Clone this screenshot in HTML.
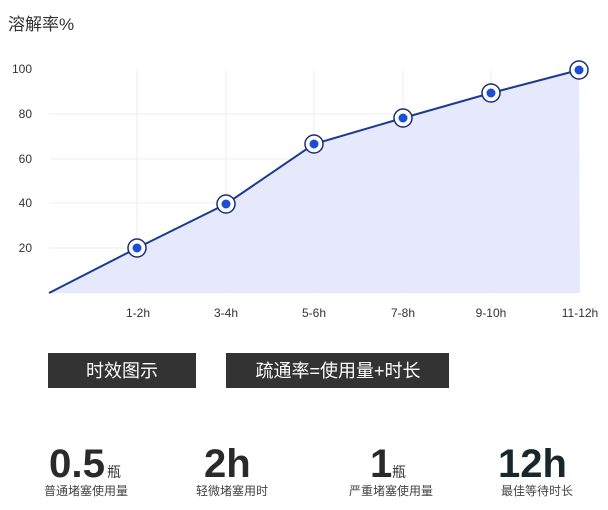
<!DOCTYPE html>
<html><head><meta charset="utf-8"><style>
html,body{margin:0;padding:0;background:#fff;width:608px;height:510px;overflow:hidden}
svg{display:block}
</style></head><body>
<svg width="608" height="510" viewBox="0 0 608 510" xmlns="http://www.w3.org/2000/svg" font-family="Liberation Sans, Noto Sans CJK SC, sans-serif">
<text x="8" y="30" font-size="17" fill="#333">溶解率%</text>
<g stroke="#eceef5" stroke-width="1">
<line x1="49" y1="114" x2="580" y2="114"/><line x1="49" y1="159" x2="580" y2="159"/>
<line x1="49" y1="203" x2="580" y2="203"/><line x1="49" y1="248" x2="580" y2="248"/>
<line x1="137" y1="70" x2="137" y2="293"/><line x1="226" y1="70" x2="226" y2="293"/>
<line x1="314" y1="70" x2="314" y2="293"/><line x1="403" y1="70" x2="403" y2="293"/>
<line x1="491" y1="70" x2="491" y2="293"/>
</g>
<polygon points="49,293 137,248 226,204 314,144 403,118 491,93 579,70 580,293" fill="#e3e7fb" opacity="0.9"/>
<polyline points="49,293 137,248 226,204 314,144 403,118 491,93 579,70" fill="none" stroke="#1c3a8e" stroke-width="2"/>
<g fill="#fff" stroke="#1c2f6e" stroke-width="1.5">
<circle cx="137" cy="248" r="9"/><circle cx="226" cy="204" r="9"/><circle cx="314" cy="144" r="9"/>
<circle cx="403" cy="118" r="9"/><circle cx="491" cy="93" r="9"/><circle cx="579" cy="70" r="9"/>
</g>
<g fill="#1b4fd2">
<circle cx="137" cy="248" r="4.5"/><circle cx="226" cy="204" r="4.5"/><circle cx="314" cy="144" r="4.5"/>
<circle cx="403" cy="118" r="4.5"/><circle cx="491" cy="93" r="4.5"/><circle cx="579" cy="70" r="4.5"/>
</g>
<g font-size="12" fill="#333" text-anchor="end">
<text x="32" y="73">100</text><text x="32" y="118">80</text><text x="32" y="163">60</text>
<text x="32" y="207">40</text><text x="32" y="252">20</text>
</g>
<g font-size="12" fill="#333" text-anchor="middle">
<text x="138" y="317">1-2h</text><text x="226" y="317">3-4h</text><text x="314" y="317">5-6h</text>
<text x="403" y="317">7-8h</text><text x="491" y="317">9-10h</text><text x="580" y="317">11-12h</text>
</g>
<rect x="48" y="353" width="148" height="35" fill="#333"/>
<rect x="226" y="353" width="223" height="35" fill="#333"/>
<g font-size="18" fill="#fff" text-anchor="middle">
<text x="122" y="377">时效图示</text><text x="338" y="377">疏通率=使用量+时长</text>
</g>
<g font-size="40" font-weight="bold" fill="#2a2a2a">
<text x="49" y="477" textLength="56" lengthAdjust="spacingAndGlyphs">0.5</text>
<text x="204" y="477">2h</text><text x="370" y="477">1</text>
<text x="498" y="477" fill="#17272c">12h</text>
</g>
<g font-size="14" fill="#333">
<text x="107" y="477">瓶</text><text x="392" y="477">瓶</text>
</g>
<g font-size="12" fill="#444" text-anchor="middle">
<text x="86" y="495">普通堵塞使用量</text><text x="232" y="495">轻微堵塞用时</text>
<text x="391" y="495">严重堵塞使用量</text><text x="537" y="495">最佳等待时长</text>
</g>
</svg>
</body></html>
